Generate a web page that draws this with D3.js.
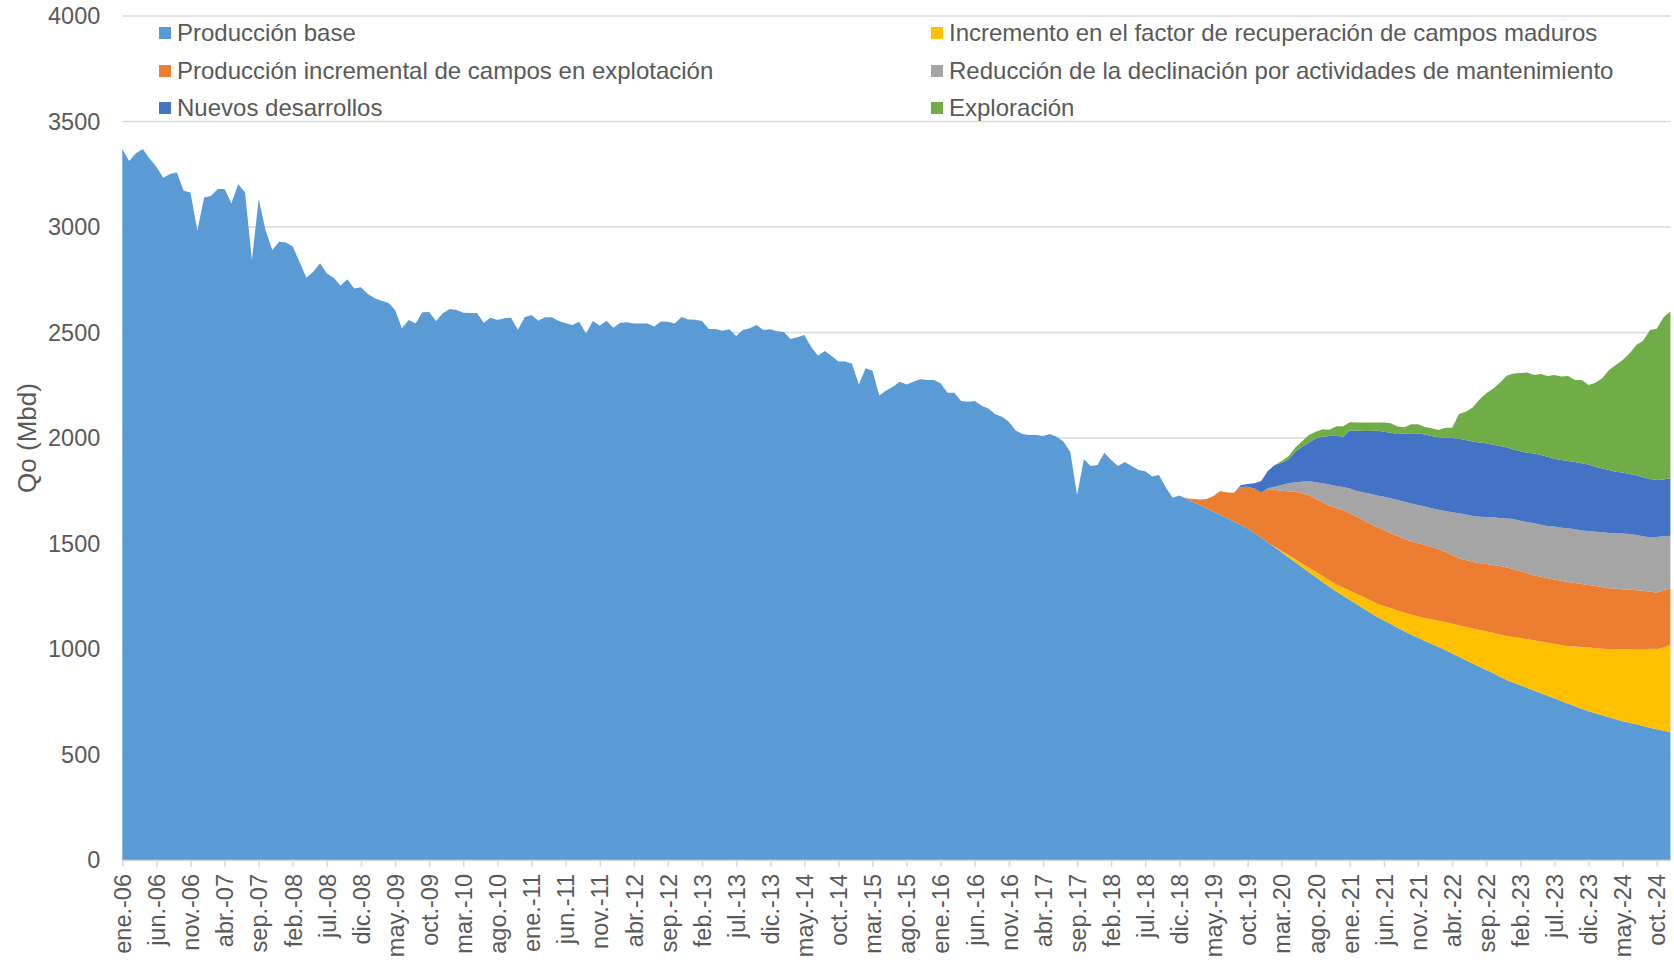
<!DOCTYPE html>
<html>
<head>
<meta charset="utf-8">
<script src="https://cdn.jsdelivr.net/npm/d3@7"></script>
<style>
  body { margin: 0; background: #fff; }
  svg { display: block; }
  text { font-family: Arial, "Liberation Sans", sans-serif; fill: #595959; }
</style>
</head>
<body>
<svg id="chart" width="1674" height="964"></svg>
<script>
// Monthly oil production (Mbd), ene.-06 .. dic.-24
const monthAbbr = ["ene.", "feb.", "mar.", "abr.", "may.", "jun.", "jul.", "ago.", "sep.", "oct.", "nov.", "dic."];
const years = ["06","07","08","09","10","11","12","13","14","15","16","17","18","19","20","21","22","23","24"];

const seriesNames = [
  "Producción base",
  "Incremento en el factor de recuperación de campos maduros",
  "Producción incremental de campos en explotación",
  "Reducción de la declinación por actividades de mantenimiento",
  "Nuevos desarrollos",
  "Exploración"
];
const seriesColors = ["#5B9BD5", "#FFC000", "#ED7D31", "#A5A5A5", "#4472C4", "#70AD47"];

// Base production, one value per month from ene.-06
const produccionBase = [
  3370,3313,3349,3370,3325,3286,3234,3251,3258,3172,3163,2982,
  3140,3147,3180,3180,3112,3204,3164,2844,3133,2986,2891,2930,
  2926,2907,2834,2760,2788,2828,2780,2760,2722,2752,2709,2714,
  2682,2662,2650,2641,2607,2520,2559,2543,2596,2597,2555,2591,
  2611,2607,2594,2592,2592,2546,2570,2559,2567,2570,2513,2572,
  2583,2556,2572,2572,2554,2544,2536,2551,2495,2554,2532,2556,
  2523,2546,2549,2543,2543,2543,2528,2552,2551,2543,2573,2562,
  2561,2554,2516,2516,2508,2515,2483,2512,2520,2536,2512,2515,
  2506,2502,2469,2477,2488,2432,2390,2412,2389,2362,2362,2352,
  2254,2330,2319,2201,2225,2243,2267,2254,2267,2278,2275,2275,
  2259,2215,2215,2175,2172,2175,2153,2140,2112,2101,2077,2035,
  2019,2014,2014,2010,2019,2006,1983,1934,1730,1899,1867,1872,
  1930,1896,1867,1886,1867,1848,1842,1817,1825,1766,1717,1727,
  1712,1697,1682,1667,1651,1636,1620,1604,1588,1572,1550,1528,
  1504,1482,1459,1435,1411,1387,1364,1341,1318,1295,1272,1252,
  1232,1212,1192,1172,1152,1135,1118,1101,1084,1068,1053,1038,
  1024,1009,995,979,963,947,931,916,901,886,869,853,
  840,828,815,803,790,778,766,754,741,729,717,705,
  695,686,676,667,658,650,643,635,627,620,612,605
];

// Incremental series, one value per month from dic.-18
const projectionStart = "dic.-18";
const incrementoFactor = [
  0,0,0,0,0,0,0,0,0,0,0,0,0,0,
  3,6,10,14,18,21,25,28,31,34,39,44,49,54,59,63,69,75,81,88,
  94,101,109,117,125,133,141,149,157,166,174,182,191,200,209,217,
  224,231,238,245,252,259,265,272,283,292,303,309,316,323,333,342,
  350,355,364,374,380,395,414
];
const produccionIncremental = [
  0,3,14,27,44,74,113,122,137,180,
  197,211,213,254,269,285,303,321,333,345,
  346,351,353,363,368,367,366,365,361,363,
  360,356,353,351,348,347,346,344,339,333,
  326,318,318,317,318,320,321,324,324,321,
  317,314,309,307,305,304,305,305,301,299,
  295,295,292,289,286,283,281,280,277,271,
  267,273,269
];
const reduccionDeclinacion = [
  0,0,0,0,0,0,0,0,0,0,0,0,0,
  4,15,27,37,44,55,66,78,88,101,
  103,109,118,122,131,144,150,158,165,171,
  175,179,182,182,182,187,193,202,213,215,
  216,219,223,226,228,233,238,239,242,246,
  247,248,251,251,254,254,254,256,257,259,
  262,262,264,264,262,258,257,264,254,249
];
const nuevosDesarrollos = [
  0,0,0,0,0,0,0,0,0,
  8,13,24,55,83,103,106,114,145,166,
  183,208,221,229,239,238,274,286,291,297,
  307,308,311,313,323,333,338,342,342,343,
  348,352,354,354,354,352,349,344,341,337,
  330,329,328,330,330,328,322,321,319,319,
  318,315,308,303,298,292,289,284,283,280,
  277,270,269,272
];
const exploracion = [
  0,0,0,0,0,0,0,0,0,0,0,0,0,0,0,
  8,15,20,26,35,32,35,30,45,50,
  40,38,40,41,39,44,45,35,30,43,
  44,35,37,35,47,49,117,134,161,204,
  237,266,300,339,360,371,380,373,384,383,
  397,395,403,389,395,377,398,427,474,506,
  534,572,618,647,706,717,769,790
];

const xTickLabels = [
  "ene.-06","jun.-06","nov.-06","abr.-07","sep.-07","feb.-08","jul.-08","dic.-08","may.-09","oct.-09",
  "mar.-10","ago.-10","ene.-11","jun.-11","nov.-11","abr.-12","sep.-12","feb.-13","jul.-13","dic.-13",
  "may.-14","oct.-14","mar.-15","ago.-15","ene.-16","jun.-16","nov.-16","abr.-17","sep.-17","feb.-18",
  "jul.-18","dic.-18","may.-19","oct.-19","mar.-20","ago.-20","ene.-21","jun.-21","nov.-21","abr.-22",
  "sep.-22","feb.-23","jul.-23","dic.-23","may.-24","oct.-24"
];
const yTickValues = [0, 500, 1000, 1500, 2000, 2500, 3000, 3500, 4000];

// Category axis: every month of every year
const categories = [];
years.forEach(yr => monthAbbr.forEach(m => categories.push(m + "-" + yr)));

const keys = ["base", "factor", "incremental", "reduccion", "nuevos", "exploracion"];
const projected = [incrementoFactor, produccionIncremental, reduccionDeclinacion, nuevosDesarrollos, exploracion];
const startIdx = categories.indexOf(projectionStart);

const table = categories.map((c, i) => {
  const row = { month: c, base: produccionBase[i] };
  projected.forEach((arr, k) => {
    const j = i - startIdx;
    row[keys[k + 1]] = j >= 0 ? arr[j] : 0;
  });
  return row;
});

// Layout
const plotLeft = 122.3, plotRight = 1670.4, plotTop = 16, plotBottom = 860;
const svg = d3.select("#chart");

const x = d3.scalePoint().domain(categories).range([plotLeft, plotRight]).padding(0);
const y = d3.scaleLinear().domain([0, 4000]).range([plotBottom, plotTop]);

// Horizontal gridlines
svg.append("g")
  .selectAll("line")
  .data(yTickValues.filter(v => v > 0))
  .join("line")
  .attr("x1", plotLeft).attr("x2", plotRight)
  .attr("y1", d => y(d)).attr("y2", d => y(d))
  .attr("stroke", "#D9D9D9").attr("stroke-width", 1.5);

// Stacked areas
const stacked = d3.stack().keys(keys)(table);
const area = d3.area()
  .x(d => x(d.data.month))
  .y0(d => y(d[0]))
  .y1(d => y(d[1]));

svg.append("g")
  .selectAll("path")
  .data(stacked)
  .join("path")
  .attr("fill", (d, i) => seriesColors[i])
  .attr("d", area);

// Category axis
const xAxis = svg.append("g")
  .attr("transform", `translate(0,${plotBottom})`)
  .call(d3.axisBottom(x).tickValues(xTickLabels).tickSize(7).tickSizeOuter(0));
xAxis.select(".domain").attr("stroke", "#D9D9D9").attr("stroke-width", 1.5);
xAxis.selectAll(".tick line").attr("stroke", "#D9D9D9").attr("stroke-width", 1.5);
xAxis.selectAll(".tick text")
  .attr("transform", "rotate(-90)")
  .attr("text-anchor", "end")
  .attr("x", -14)
  .attr("y", 0)
  .attr("dy", "0.35em")
  .style("font-size", "23.5px")
  .style("font-family", "Arial, 'Liberation Sans', sans-serif")
  .style("fill", "#595959");

// Value axis
const yAxis = svg.append("g")
  .attr("transform", `translate(${plotLeft},0)`)
  .call(d3.axisLeft(y).tickValues(yTickValues).tickFormat(d3.format("d")).tickSize(0).tickPadding(22));
yAxis.select(".domain").remove();
yAxis.selectAll(".tick text")
  .style("font-size", "23.5px")
  .style("font-family", "Arial, 'Liberation Sans', sans-serif")
  .style("fill", "#595959");

svg.append("text")
  .attr("transform", `translate(27,${(plotTop + plotBottom) / 2}) rotate(-90)`)
  .attr("text-anchor", "middle")
  .attr("dy", "0.35em")
  .style("font-size", "26px")
  .text("Qo (Mbd)");

// Legend, two columns filled row by row
const legendCols = [159, 931];
const legendRows = [33, 71, 108];
const legend = svg.append("g")
  .selectAll("g")
  .data(seriesNames)
  .join("g")
  .attr("transform", (d, i) => `translate(${legendCols[i % 2]},${legendRows[Math.floor(i / 2)]})`);
legend.append("rect")
  .attr("x", 0).attr("y", -6)
  .attr("width", 12).attr("height", 12)
  .attr("fill", (d, i) => seriesColors[i]);
legend.append("text")
  .attr("x", 18)
  .attr("dy", "0.35em")
  .style("font-size", "24px")
  .text(d => d);
</script>
</body>
</html>
